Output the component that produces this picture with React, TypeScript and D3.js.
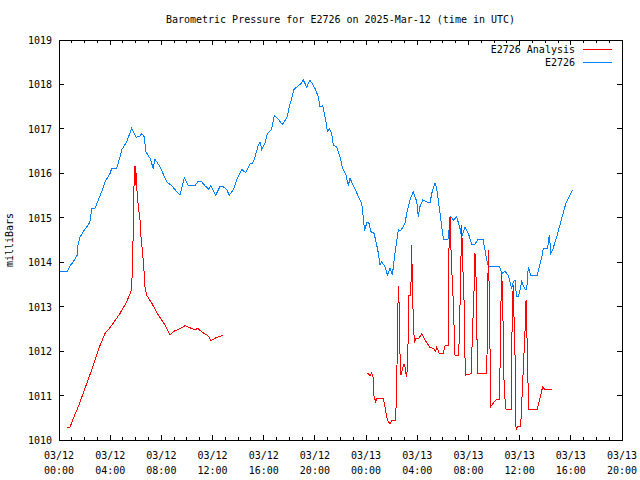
import React from "react";
import * as d3 from "d3";

const TITLE = "Barometric Pressure for E2726 on 2025-Mar-12 (time in UTC)";
const Y_LABEL = "milliBars";
const SERIES_NAMES = ["E2726 Analysis", "E2726"];
const SERIES_COLORS = ["#ff0000", "#0080ff"];
const Y_TICKS = [1010, 1011, 1012, 1013, 1014, 1015, 1016, 1017, 1018, 1019];
const T0 = Date.UTC(2025, 2, 12, 0, 0);
const T1 = Date.UTC(2025, 2, 13, 20, 0);

// [hours since 2025-03-12 00:00 UTC, mb]
const observed: [number, number][] = [
  [0.04, 1013.8], [0.65, 1013.8], [0.86, 1013.92], [1.12, 1014.01], [1.43, 1014.16], [1.45, 1014.35],
  [1.64, 1014.56], [1.9, 1014.69], [2.29, 1014.84], [2.42, 1014.91], [2.56, 1015.21], [2.81, 1015.21],
  [3.07, 1015.4], [3.34, 1015.59], [3.6, 1015.81], [3.99, 1016.0], [4.12, 1016.11], [4.51, 1016.11],
  [4.77, 1016.37], [4.9, 1016.53], [5.29, 1016.71], [5.68, 1017.01], [6.02, 1016.81], [6.33, 1016.84],
  [6.46, 1016.9], [6.67, 1016.82], [6.78, 1016.49], [7.11, 1016.34], [7.37, 1016.11], [7.5, 1016.32],
  [7.89, 1016.15], [8.42, 1015.81], [8.81, 1015.72], [9.2, 1015.59], [9.46, 1015.51], [9.79, 1015.9],
  [10.11, 1015.72], [10.63, 1015.72], [10.84, 1015.81], [11.15, 1015.81], [11.41, 1015.72], [11.72, 1015.64],
  [11.86, 1015.72], [12.25, 1015.51], [12.58, 1015.7], [12.84, 1015.7], [13.11, 1015.63], [13.31, 1015.51],
  [13.62, 1015.63], [13.89, 1015.85], [14.28, 1016.09], [14.59, 1016.01], [14.93, 1016.21], [15.14, 1016.23],
  [15.32, 1016.37], [15.58, 1016.64], [15.71, 1016.71], [15.84, 1016.54], [16.1, 1016.69], [16.28, 1016.89],
  [16.62, 1016.99], [16.83, 1017.31], [17.14, 1017.22], [17.45, 1017.1], [17.8, 1017.24], [18.0, 1017.5],
  [18.19, 1017.69], [18.37, 1017.89], [18.7, 1017.97], [18.89, 1018.01], [19.09, 1018.1], [19.36, 1017.94],
  [19.62, 1018.1], [20.01, 1017.91], [20.27, 1017.72], [20.4, 1017.5], [20.61, 1017.52], [20.73, 1017.35],
  [20.87, 1017.16], [20.97, 1016.94], [21.13, 1017.01], [21.31, 1016.9], [21.44, 1016.64], [21.7, 1016.59],
  [21.96, 1016.37], [22.17, 1016.11], [22.43, 1015.96], [22.61, 1015.72], [22.74, 1015.89], [23.0, 1015.72],
  [23.21, 1015.61], [23.39, 1015.47], [23.66, 1015.33], [23.78, 1015.02], [23.88, 1014.7], [24.05, 1014.89],
  [24.23, 1014.88], [24.36, 1014.69], [24.62, 1014.65], [24.78, 1014.46], [24.96, 1014.2], [25.09, 1013.94],
  [25.22, 1014.01], [25.48, 1013.9], [25.66, 1013.71], [25.87, 1013.86], [26.05, 1013.71], [26.26, 1014.2],
  [26.52, 1014.73], [26.71, 1014.71], [27.04, 1014.88], [27.18, 1015.1], [27.43, 1015.4], [27.69, 1015.59],
  [27.96, 1015.36], [28.08, 1015.02], [28.21, 1015.25], [28.43, 1015.4], [28.86, 1015.34], [29.0, 1015.33],
  [29.13, 1015.55], [29.39, 1015.78], [29.52, 1015.66], [29.78, 1015.1], [30.04, 1014.52], [30.4, 1014.52],
  [30.6, 1015.03], [30.82, 1014.95], [31.08, 1015.02], [31.34, 1014.76], [31.47, 1014.57], [31.73, 1014.79],
  [31.99, 1014.65], [32.25, 1014.41], [32.51, 1014.41], [32.77, 1014.52], [33.14, 1014.52], [33.43, 1014.05],
  [33.55, 1013.91], [34.43, 1013.91], [34.6, 1013.74], [34.86, 1013.8], [35.12, 1013.7], [35.38, 1013.41],
  [35.51, 1013.56], [35.64, 1013.6], [35.76, 1013.22], [35.91, 1013.22], [36.16, 1013.56], [36.42, 1013.39],
  [36.55, 1013.39], [36.68, 1013.9], [36.85, 1013.71], [37.38, 1013.71], [37.73, 1014.11], [37.85, 1014.31],
  [38.18, 1014.31], [38.32, 1014.61], [38.44, 1014.21], [38.59, 1014.29], [38.9, 1014.57], [39.29, 1014.99],
  [39.62, 1015.33], [40.15, 1015.63],
];

const analysisDay1: [number, number][] = [
  [0.65, 1010.29], [0.86, 1010.29], [1.12, 1010.49], [1.51, 1010.75], [2.03, 1011.16], [2.56, 1011.58],
  [3.07, 1012.03], [3.6, 1012.4], [3.85, 1012.48], [4.24, 1012.63], [4.77, 1012.85], [5.29, 1013.11],
  [5.68, 1013.38], [5.73, 1013.86], [5.81, 1014.76], [5.86, 1015.7], [5.94, 1016.17], [5.99, 1015.74],
  [6.02, 1016.0], [6.07, 1015.7], [6.15, 1015.4], [6.25, 1015.14], [6.35, 1014.91], [6.41, 1014.57],
  [6.51, 1014.28], [6.59, 1014.01], [6.67, 1013.71], [6.72, 1013.45], [6.85, 1013.26], [7.25, 1013.08],
  [7.76, 1012.81], [8.28, 1012.59], [8.68, 1012.36], [8.93, 1012.44], [9.32, 1012.49], [9.85, 1012.57],
  [10.37, 1012.51], [10.63, 1012.48], [10.84, 1012.51], [11.28, 1012.41], [11.67, 1012.34], [11.88, 1012.23],
  [12.19, 1012.29], [12.84, 1012.36],
];

const analysisDay2: [number, number][] = [
  [24.05, 1011.49], [24.17, 1011.5], [24.31, 1011.44], [24.44, 1011.51], [24.56, 1011.41], [24.62, 1010.99],
  [24.75, 1010.86], [24.83, 1010.94], [25.35, 1010.94], [25.48, 1010.75], [25.61, 1010.51], [25.74, 1010.41],
  [25.87, 1010.36], [26.0, 1010.45], [26.31, 1010.45], [26.39, 1011.2], [26.47, 1012.7], [26.52, 1013.47],
  [26.6, 1012.93], [26.65, 1011.95], [26.73, 1011.46], [26.86, 1011.61], [26.96, 1011.71], [27.04, 1011.65],
  [27.12, 1011.49], [27.17, 1011.41], [27.25, 1011.76], [27.35, 1013.26], [27.49, 1013.26], [27.57, 1014.39],
  [27.61, 1013.49], [27.69, 1012.74], [27.77, 1012.19], [27.88, 1012.29], [28.14, 1012.29], [28.35, 1012.39],
  [28.47, 1012.32], [28.74, 1012.19], [29.0, 1012.08], [29.25, 1012.06], [29.44, 1012.0], [29.52, 1012.09],
  [29.7, 1011.96], [29.78, 1011.95], [30.04, 1011.95], [30.17, 1012.12], [30.43, 1012.12], [30.48, 1014.31],
  [30.56, 1015.02], [30.61, 1014.5], [30.69, 1013.86], [30.82, 1013.08], [30.9, 1012.32], [30.95, 1011.91],
  [31.21, 1011.91], [31.29, 1012.29], [31.4, 1013.9], [31.47, 1014.84], [31.52, 1014.28], [31.6, 1013.56],
  [31.68, 1012.93], [31.75, 1011.46], [32.2, 1011.49], [32.25, 1011.84], [32.33, 1012.55], [32.43, 1013.3],
  [32.51, 1014.2], [32.59, 1013.67], [32.65, 1012.93], [32.69, 1011.5], [33.43, 1011.5], [33.47, 1012.32],
  [33.55, 1014.28], [33.63, 1013.3], [33.68, 1012.18], [33.74, 1010.75], [33.94, 1010.83], [34.21, 1010.92],
  [34.41, 1010.92], [34.47, 1011.65], [34.54, 1013.08], [34.6, 1013.71], [34.68, 1013.22], [34.73, 1011.95],
  [34.8, 1011.09], [34.94, 1010.69], [35.33, 1010.69], [35.38, 1012.1], [35.46, 1013.15], [35.5, 1013.49],
  [35.56, 1012.77], [35.64, 1011.91], [35.72, 1010.23], [35.82, 1010.3], [36.08, 1010.3], [36.42, 1012.44],
  [36.5, 1013.15], [36.55, 1012.51], [36.63, 1011.87], [36.68, 1010.68], [36.94, 1010.69], [37.38, 1010.69],
  [37.59, 1010.94], [37.8, 1011.2], [37.98, 1011.13], [38.51, 1011.13],
];

const FONT = "'DejaVu Sans Mono', 'Liberation Mono', monospace";

export default function App() {
  const W = 640, H = 480;
  const left = 59, right = 622, top = 40, bottom = 440;
  const x = d3.scaleUtc().domain([new Date(T0), new Date(T1)]).range([left, right]);
  const y = d3.scaleLinear().domain([1010, 1019]).range([bottom, top]);
  const toDate = (h: number) => new Date(T0 + h * 3600000);
  const line = d3.line<[number, number]>().x((d) => x(toDate(d[0]))).y((d) => y(d[1]));

  const major = d3.utcHour.every(4)!.range(new Date(T0), new Date(T1 + 1));
  const minor = d3.utcHour.range(new Date(T0), new Date(T1 + 1));
  const fmtDate = d3.utcFormat("%m/%d");
  const fmtTime = d3.utcFormat("%H:%M");

  return (
    <svg width={W} height={H} style={{ position: "absolute", left: 0, top: 0, background: "#fff" }}
      fontFamily={FONT} fontSize={10}>
      <rect x={0} y={0} width={W} height={H} fill="#fff" />
      <text x={(left + right) / 2} y={23} textAnchor="middle">{TITLE}</text>
      <text transform={`translate(13,${(top + bottom) / 2}) rotate(-90)`} textAnchor="middle">{Y_LABEL}</text>

      <g shapeRendering="crispEdges" stroke="#000">
        {minor.map((d, i) => (
          <g key={"mn" + i}>
            <line x1={x(d)} x2={x(d)} y1={bottom} y2={bottom - 3} />
            <line x1={x(d)} x2={x(d)} y1={top} y2={top + 3} />
          </g>
        ))}
        {major.map((d, i) => (
          <g key={"mj" + i}>
            <line x1={x(d)} x2={x(d)} y1={bottom} y2={bottom - 5} />
            <line x1={x(d)} x2={x(d)} y1={top} y2={top + 5} />
          </g>
        ))}
        {Y_TICKS.map((v) => (
          <g key={"yt" + v}>
            <line x1={left} x2={left + 5} y1={y(v)} y2={y(v)} />
            <line x1={right} x2={right - 5} y1={y(v)} y2={y(v)} />
          </g>
        ))}
        <rect x={left} y={top} width={right - left} height={bottom - top} fill="none" />
      </g>

      {Y_TICKS.map((v) => (
        <text key={"yl" + v} x={left - 7} y={y(v) + 4} textAnchor="end">{v}</text>
      ))}
      {major.map((d, i) => (
        <g key={"xl" + i}>
          <text x={x(d)} y={459} textAnchor="middle">{fmtDate(d)}</text>
          <text x={x(d)} y={474} textAnchor="middle">{fmtTime(d)}</text>
        </g>
      ))}

      <g fill="none" strokeWidth={1} shapeRendering="crispEdges">
        <path d={line(observed) || ""} stroke={SERIES_COLORS[1]} />
        <path d={line(analysisDay1) || ""} stroke={SERIES_COLORS[0]} />
        <path d={line(analysisDay2) || ""} stroke={SERIES_COLORS[0]} />
      </g>

      {SERIES_NAMES.map((n, i) => (
        <g key={"lg" + i}>
          <text x={575} y={53 + i * 13} textAnchor="end">{n}</text>
          <line x1={583} x2={612} y1={49.5 + i * 13} y2={49.5 + i * 13} stroke={SERIES_COLORS[i]} shapeRendering="crispEdges" />
        </g>
      ))}
    </svg>
  );
}
